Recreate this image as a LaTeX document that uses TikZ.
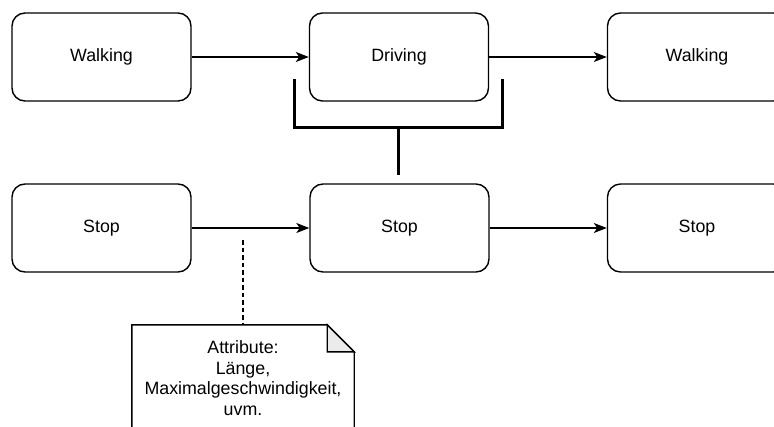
\documentclass[tikz,border=0pt]{standalone}
\usepackage{fontspec}
\setmainfont{Liberation Sans}
\usetikzlibrary{arrows.meta,calc}

\begin{document}
\begin{tikzpicture}[x=1pt,y=-1pt,
        state/.style={draw=black,line width=1.4pt,rounded corners=13pt,minimum width=179pt,minimum height=88pt,font=\fontsize{17.8}{20.7}\selectfont},
        flow/.style={line width=1.4pt,-{Stealth[length=13pt,width=10pt,inset=3.5pt]}},
        notebox/.style={align=center,minimum width=222pt,minimum height=106pt,inner sep=0pt,font=\fontsize{17.8}{20.7}\selectfont}]
        \clip (0,0) rectangle (774,426);
        \node[state] (walk1) at (101.5,57){Walking};
        \node[state] (drive) at (399,57){Driving};
        \node[state] (walk2) at (697,57){Walking};
        \node[state] (stop1) at (101.5,228){Stop};
        \node[state] (stop2) at (399.5,228){Stop};
        \node[state] (stop3) at (697,228){Stop};
        \draw[flow] (walk1) -- (drive);
        \draw[flow] (drive) -- (walk2);
        \draw[flow] (stop1) -- (stop2);
        \draw[flow] (stop2) -- (stop3);
        % bracket under Driving
        \coordinate (bl) at (294,79);
        \coordinate (br) at (502,79);
        \coordinate (bstem) at (398,175);
        \draw[line width=3pt] (bl) |- (br |- 0,127) -- (br);
        \draw[line width=3pt] (bstem |- 0,127) -- (bstem);
        % note
        \node[notebox] (note) at (243,378){};
        \draw[line width=1.4pt,fill=white] (note.north west) -- ([xshift=-27pt]note.north east) -- ([yshift=-27pt]note.north east) -- (note.south east) -- (note.south west) -- cycle;
        \draw[line width=1.4pt,fill=black!8] ([xshift=-27pt]note.north east) -- ([xshift=-27pt,yshift=-27pt]note.north east) -- ([yshift=-27pt]note.north east) -- cycle;
        \node[notebox] at (note.center){Attribute:\\Länge,\\Maximalgeschwindigkeit,\\uvm.};
        \coordinate (attr) at (243,240);
        \draw[line width=1.2pt,dash pattern=on 4.5pt off 3pt] (attr) -- (note.north);
        \end{tikzpicture}
\end{document}
